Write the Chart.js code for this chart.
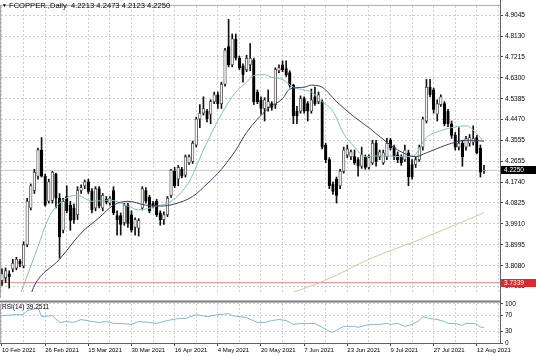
<!DOCTYPE html>
<html><head><meta charset="utf-8">
<script src="https://cdn.jsdelivr.net/npm/chart.js@4/dist/chart.umd.min.js"></script>
<style>
html,body{margin:0;padding:0;background:#fff;width:536px;height:356px;overflow:hidden}
canvas{position:absolute;left:0}
#a{top:0}
#b{top:298px}
</style></head><body>
<canvas id="a" width="536" height="298"></canvas>
<canvas id="b" width="536" height="58"></canvas>
<script>
// ---------- data ----------
const titleText = 'FCOPPER.,Daily  4.2213 4.2473 4.2123 4.2250';
const rsiLabel = 'RSI(14) 39.2511';
const xTickLabels = ['10 Feb 2021','26 Feb 2021','15 Mar 2021','30 Mar 2021','16 Apr 2021','4 May 2021','20 May 2021','7 Jun 2021','23 Jun 2021','9 Jul 2021','27 Jul 2021','12 Aug 2021'];
const yTickLabels = ['4.9045','4.8130','4.7215','4.6300','4.5385','4.4470','4.3555','4.2655','4.1740','4.0825','3.9910','3.8995','3.8080','3.7165'];
const rsiTickLabels = ['100','70','30','0'];
const lastPrice = 4.2250;
const hLinePrice = 3.7339;

const opens = [3.743,3.756,3.773,3.794,3.798,3.828,3.807,3.900,4.061,4.137,4.200,4.314,4.200,4.090,4.094,4.209,4.103,3.963,4.111,4.073,
4.061,4.031,4.137,4.158,4.175,4.133,4.061,4.145,4.061,4.099,4.082,4.137,4.027,4.027,3.997,4.073,4.031,3.976,3.972,4.061,
4.137,4.107,4.082,4.090,4.039,4.010,4.031,4.116,4.221,4.187,4.230,4.204,4.259,4.264,4.336,4.450,4.475,4.484,4.471,4.526,
4.556,4.517,4.602,4.767,4.687,4.801,4.716,4.683,4.666,4.687,4.708,4.568,4.534,4.496,4.501,4.517,4.513,4.661,4.687,4.670,
4.653,4.598,4.484,4.484,4.539,4.517,4.484,4.547,4.526,4.526,4.336,4.272,4.166,4.187,4.158,4.221,4.293,4.285,4.285,4.272,
4.243,4.285,4.238,4.259,4.344,4.285,4.259,4.285,4.357,4.327,4.293,4.285,4.272,4.302,4.251,4.251,4.272,4.327,4.441,4.589,
4.577,4.471,4.513,4.517,4.484,4.429,4.378,4.327,4.344,4.327,4.344,4.348,4.369,4.323,4.2213];
const highs = [3.794,3.798,3.786,3.836,3.845,3.836,3.913,4.103,4.166,4.230,4.323,4.369,4.209,4.187,4.221,4.213,4.124,4.103,4.158,4.090,
4.078,4.154,4.162,4.183,4.187,4.145,4.154,4.154,4.124,4.111,4.111,4.154,4.048,4.039,4.082,4.082,4.048,4.018,4.014,4.154,
4.150,4.116,4.090,4.099,4.048,4.044,4.111,4.230,4.238,4.247,4.238,4.293,4.293,4.353,4.458,4.513,4.547,4.492,4.534,4.568,
4.568,4.611,4.759,4.886,4.822,4.822,4.725,4.691,4.729,4.780,4.716,4.577,4.547,4.543,4.577,4.526,4.674,4.687,4.704,4.704,
4.661,4.602,4.505,4.551,4.547,4.526,4.581,4.589,4.568,4.534,4.344,4.281,4.175,4.196,4.230,4.327,4.336,4.314,4.314,4.281,
4.327,4.293,4.293,4.357,4.357,4.314,4.314,4.365,4.365,4.336,4.306,4.293,4.336,4.314,4.272,4.285,4.336,4.458,4.623,4.623,
4.585,4.534,4.556,4.526,4.492,4.441,4.391,4.412,4.357,4.374,4.382,4.420,4.378,4.336,4.2473];
const lows = [3.722,3.735,3.710,3.781,3.790,3.803,3.798,3.891,4.052,4.124,4.187,4.196,4.069,4.082,4.082,4.061,3.841,3.951,4.039,3.963,
3.993,4.010,4.124,4.145,4.124,4.039,4.048,4.061,4.048,4.078,4.073,4.031,3.942,3.942,3.985,3.976,3.955,3.942,3.938,4.052,
4.082,4.039,4.061,4.023,3.985,3.989,4.023,4.107,4.149,4.158,4.192,4.196,4.251,4.255,4.327,4.412,4.467,4.437,4.429,4.517,
4.496,4.496,4.594,4.678,4.678,4.708,4.666,4.611,4.657,4.661,4.513,4.517,4.471,4.441,4.484,4.488,4.496,4.653,4.657,4.636,
4.589,4.429,4.429,4.475,4.475,4.441,4.475,4.509,4.517,4.319,4.259,4.145,4.120,4.082,4.145,4.213,4.281,4.272,4.251,4.200,
4.234,4.230,4.230,4.251,4.243,4.272,4.251,4.272,4.314,4.272,4.259,4.247,4.264,4.158,4.187,4.238,4.264,4.314,4.433,4.547,
4.475,4.441,4.505,4.420,4.416,4.365,4.314,4.314,4.243,4.314,4.331,4.336,4.298,4.196,4.2123];
const closes = [3.773,3.786,3.760,3.819,3.836,3.815,3.900,4.090,4.158,4.217,4.314,4.200,4.073,4.175,4.217,4.103,3.934,4.090,4.048,4.006,
4.010,4.137,4.150,4.175,4.133,4.052,4.145,4.069,4.116,4.086,4.103,4.039,4.010,3.989,4.073,3.993,3.963,4.010,4.006,4.145,
4.090,4.048,4.069,4.031,4.010,4.031,4.103,4.226,4.158,4.238,4.200,4.285,4.285,4.344,4.450,4.475,4.496,4.450,4.526,4.556,
4.517,4.602,4.750,4.687,4.801,4.716,4.674,4.644,4.716,4.716,4.526,4.526,4.496,4.534,4.526,4.501,4.666,4.674,4.666,4.644,
4.598,4.463,4.463,4.539,4.484,4.484,4.534,4.517,4.556,4.327,4.272,4.158,4.133,4.116,4.221,4.314,4.319,4.306,4.259,4.243,
4.293,4.238,4.281,4.344,4.264,4.306,4.302,4.344,4.323,4.285,4.272,4.259,4.314,4.196,4.196,4.272,4.327,4.450,4.589,4.556,
4.492,4.517,4.547,4.429,4.429,4.378,4.327,4.344,4.285,4.365,4.369,4.365,4.302,4.217,4.2250];

// moving averages (bar index, value)
const maFastBars   = [5,6,10,13,17,21,25,30,35,38,43,47,52,56,61,65,68,70,73,75,78,81,84,86,89,92,95,98,101,105,111,114,118,122,125,129,132,134];
const maFastValues = [3.680,3.722,3.891,4.018,4.095,4.116,4.090,4.095,4.069,4.052,4.069,4.090,4.175,4.314,4.471,4.568,4.611,4.640,4.644,4.632,4.623,4.589,4.577,4.568,4.526,4.484,4.386,4.327,4.285,4.289,4.285,4.285,4.369,4.399,4.412,4.420,4.386,4.348];
const maSlowBars   = [8,9,16,22,27,31,35,40,44,48,53,57,61,65,68,74,78,80,84,86,89,93,98,102,107,111,115,118,122,125,129,134];
const maSlowValues = [3.680,3.722,3.836,3.951,4.018,4.073,4.090,4.073,4.069,4.078,4.111,4.166,4.230,4.314,4.391,4.496,4.539,4.581,4.589,4.598,4.589,4.526,4.458,4.412,4.348,4.306,4.285,4.302,4.327,4.344,4.357,4.353];
const maLongBars   = [79,90,102,118,134];
const maLongValues = [3.680,3.745,3.836,3.934,4.040];

const rsiBars   = [0,4,6,7,10,11,14,16,18,20,22,25,27,29,31,33,36,38,41,43,46,49,51,54,57,60,63,64,66,68,71,73,75,77,79,81,83,85,87,89,91,92,94,95,98,99,101,103,105,107,108,110,112,114,116,117,119,121,123,124,126,128,129,131,132,133,134];
const rsiValues = [70,72.5,72.5,82.5,90,67.5,70,52.5,55,52.5,60,55,52.5,55,50,50,47.5,55,52.5,50,57.5,62.5,62.5,72.5,67.5,72.5,75,70,67.5,65,52.5,52.5,57.5,60,57.5,47.5,50,50,50,40,30,27.5,37.5,42.5,42.5,40,45,47.5,47.5,50,47.5,50,42.5,47.5,57.5,67.5,62.5,60,55,50,50,45,50,50,47.5,41,39.25];

// ---------- layout / style ----------
const FONT = 'Liberation Sans';
const FS = 6.5, FS_X = 6, FS_TITLE = 7.6;
const X_MIN = -0.278, X_MAX = 138.45;
const Y_MIN = 3.6926, Y_MAX = 4.9447;
const LABEL_EVERY = 12, GRID_EVERY = 6;
const GRID_COLOR = '#cdcdcd';
const GRID_DASH = [2,2];

const n = opens.length;
const idx = Array.from({length:n}, (_, i) => i);
const bodies = idx.map(i => ({x:i, y:[opens[i], closes[i]]}));
const wicks  = idx.map(i => ({x:i, y:[lows[i], highs[i]]}));
const bull = idx.map(i => closes[i] >= opens[i]);
const bodyFill = bull.map(b => b ? '#f4f4f4' : '#000000');
const bodyLine = bull.map(b => b ? '#444444' : '#000000');
const pts = (xs, ys) => xs.map((x, k) => ({x, y: ys[k]}));
const gridTicks = [];
for (let v = 0; v <= X_MAX; v += GRID_EVERY) gridTicks.push(v);
const xLabel = v => (v % LABEL_EVERY === 0 && xTickLabels[v / LABEL_EVERY]) ? xTickLabels[v / LABEL_EVERY] : '';

function xScale(showLabels, h) {
  return {
    type:'linear', min:X_MIN, max:X_MAX, offset:false,
    afterBuildTicks: s => { s.ticks = gridTicks.map(v => ({value:v})); },
    afterFit: s => { s.height = h; },
    grid:{ color:GRID_COLOR, offset:false, drawTicks:showLabels, tickLength:3,
      tickColor: c => (c.tick && c.tick.value % LABEL_EVERY === 0) ? '#444' : 'rgba(0,0,0,0)', tickBorderDash:[] },
    border:{ display:false, dash:GRID_DASH },
    ticks:{ display:showLabels, autoSkip:false, maxRotation:0, minRotation:0, align:'start', padding:1,
      color:'#000', font:{family:FONT, size:FS_X}, callback: v => xLabel(v) }
  };
}

const frameA = {
  id:'frameA',
  afterDraw(c) {
    const g = c.ctx, a = c.chartArea, ys = c.scales.y;
    g.save();
    g.strokeStyle = '#a8a8a8'; g.lineWidth = 1;
    g.beginPath(); g.moveTo(0, a.top - 0.5); g.lineTo(a.right, a.top - 0.5); g.stroke();
    g.beginPath(); g.moveTo(0.5, a.top); g.lineTo(0.5, 298); g.stroke();
    g.strokeStyle = '#606060';
    g.beginPath(); g.moveTo(a.right + 0.5, 0); g.lineTo(a.right + 0.5, 298); g.stroke();
    // title
    g.fillStyle = '#000'; g.textBaseline = 'middle'; g.textAlign = 'left';
    g.font = '5px ' + FONT; g.fillText('\u25BC', 2, 6);
    g.font = FS_TITLE + 'px ' + FONT; g.fillText(titleText, 9, 6);
    // price boxes on the axis
    const box = (v, bg) => {
      const y = Math.round(ys.getPixelForValue(v));
      g.fillStyle = bg; g.fillRect(a.right + 1, y - 4, 35, 8);
      g.fillStyle = '#fff'; g.font = FS + 'px ' + FONT; g.textBaseline = 'middle';
      g.fillText(v.toFixed(4), a.right + 4, y);
    };
    box(lastPrice, '#000000');
    box(hLinePrice, '#e3262b');
    g.restore();
  }
};

new Chart(document.getElementById('a'), {
  type:'bar',
  data:{ datasets:[
    {type:'line', data:[{x:X_MIN,y:lastPrice},{x:X_MAX,y:lastPrice}], borderColor:'#c8c8c8', borderWidth:1, pointRadius:0, order:5},
    {type:'line', data:[{x:X_MIN,y:hLinePrice},{x:X_MAX,y:hLinePrice}], borderColor:'#e08a8a', borderWidth:1, pointRadius:0, order:5},
    {type:'bar', data:wicks, backgroundColor:'#111', borderWidth:0, barThickness:1, grouped:false, order:3},
    {type:'bar', data:bodies, backgroundColor:bodyFill, borderColor:bodyLine, borderWidth:0.8, borderSkipped:false, barThickness:2.6, grouped:false, order:2},
    {type:'line', data:pts(maLongBars, maLongValues), borderColor:'#d8c4a2', borderWidth:1, pointRadius:0, cubicInterpolationMode:'monotone', order:1},
    {type:'line', data:pts(maSlowBars, maSlowValues), borderColor:'#3e3e5e', borderWidth:1, pointRadius:0, cubicInterpolationMode:'monotone', order:1},
    {type:'line', data:pts(maFastBars, maFastValues), borderColor:'#8ebcb0', borderWidth:1, pointRadius:0, cubicInterpolationMode:'monotone', order:1}
  ]},
  options:{
    responsive:false, animation:false, devicePixelRatio:1,
    layout:{ padding:{left:1, top:1, right:0, bottom:0} },
    plugins:{ legend:{display:false}, tooltip:{enabled:false}, title:{display:false} },
    scales:{
      x: xScale(false, 1),
      y: { type:'linear', position:'right', min:Y_MIN, max:Y_MAX, beginAtZero:false,
        afterBuildTicks: s => { s.ticks = yTickLabels.map(t => ({value:parseFloat(t)})); },
        afterFit: s => { s.width = 36; },
        grid:{ color:GRID_COLOR, drawTicks:true, tickLength:3, tickColor:'#444', tickBorderDash:[] },
        border:{ display:false, dash:GRID_DASH },
        ticks:{ padding:2, color:'#000', font:{family:FONT, size:FS},
          callback: (v, i) => yTickLabels[i] }
      }
    }
  },
  plugins:[frameA]
});

const frameB = {
  id:'frameB',
  afterDraw(c) {
    const g = c.ctx, a = c.chartArea;
    g.save();
    g.fillStyle = '#7a7a7a'; g.fillRect(0, 2.5, a.right + 1, 2);
    g.strokeStyle = '#606060'; g.lineWidth = 1;
    g.beginPath(); g.moveTo(0, a.bottom + 0.5); g.lineTo(a.right + 1, a.bottom + 0.5); g.stroke();
    g.beginPath(); g.moveTo(a.right + 0.5, 0); g.lineTo(a.right + 0.5, a.bottom + 1); g.stroke();
    g.strokeStyle = '#a8a8a8';
    g.beginPath(); g.moveTo(0.5, a.top); g.lineTo(0.5, a.bottom); g.stroke();
    g.fillStyle = '#000'; g.textBaseline = 'middle'; g.textAlign = 'left';
    g.font = FS + 'px ' + FONT; g.fillText(rsiLabel, 2, 9);
    g.restore();
  }
};

new Chart(document.getElementById('b'), {
  type:'line',
  data:{ datasets:[
    {data:pts(rsiBars, rsiValues), borderColor:'#86b6cc', borderWidth:1, pointRadius:0, tension:0}
  ]},
  options:{
    responsive:false, animation:false, devicePixelRatio:1,
    layout:{ padding:{left:1, top:5, right:0, bottom:0} },
    plugins:{ legend:{display:false}, tooltip:{enabled:false} },
    scales:{
      x: xScale(true, 13),
      y: { type:'linear', position:'right', min:0, max:100,
        afterBuildTicks: s => { s.ticks = rsiTickLabels.map(t => ({value:parseFloat(t)})); },
        afterFit: s => { s.width = 36; },
        grid:{ color:GRID_COLOR, drawTicks:true, tickLength:3, tickColor:'#444', tickBorderDash:[] },
        border:{ display:false, dash:GRID_DASH },
        ticks:{ padding:2, color:'#000', font:{family:FONT, size:FS}, callback:(v, i) => rsiTickLabels[i] }
      }
    }
  },
  plugins:[frameB]
});
</script>
</body></html>
